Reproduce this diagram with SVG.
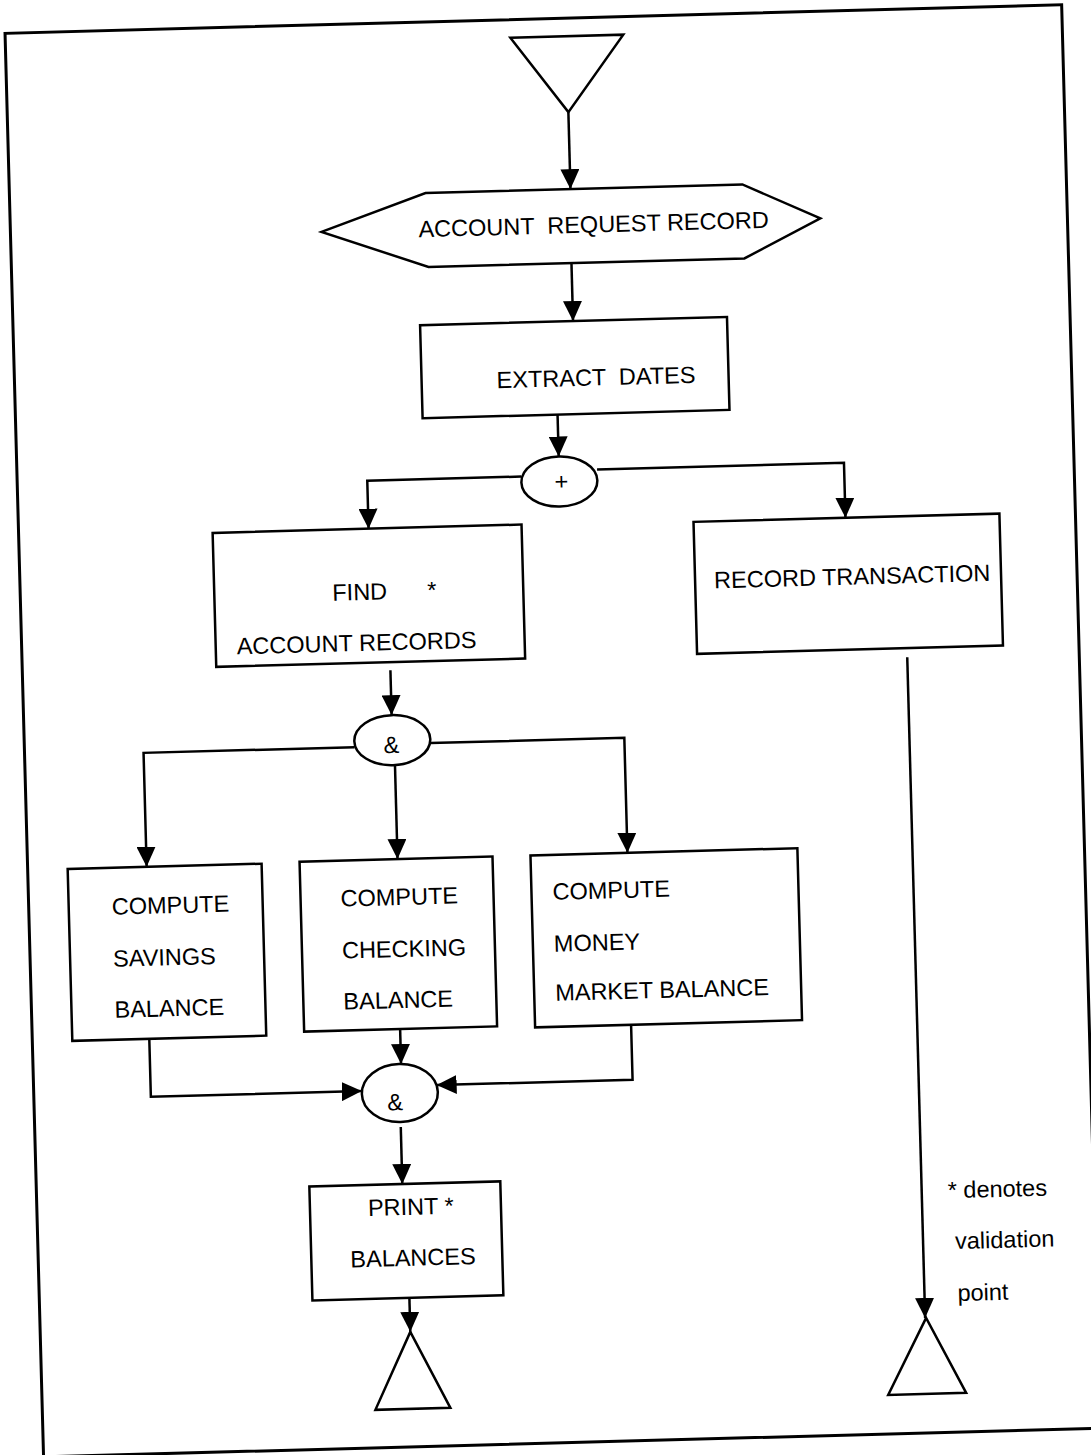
<svg xmlns="http://www.w3.org/2000/svg" width="1091" height="1455" viewBox="0 0 1091 1455">
<defs>
<marker id="ah" viewBox="0 0 20 19" markerWidth="20" markerHeight="19" refX="20" refY="9.5" orient="auto" markerUnits="userSpaceOnUse">
<path d="M0,0 L20,9.5 L0,19 z" fill="#000"/>
</marker>
</defs>
<style>
.s{fill:#fff;stroke:#000;stroke-width:2.5}
.c{fill:none;stroke:#000;stroke-width:2.5;marker-end:url(#ah)}
.t{font-family:"Liberation Sans",Arial,sans-serif;font-size:23.5px;fill:#000}
.m{text-anchor:middle}
</style>
<rect width="1091" height="1455" fill="#fff"/>
<g transform="rotate(-1.55 545 727)">
<g id="frame"><rect x="24" y="19" width="1057" height="1424" fill="none" stroke="#000" stroke-width="3"/></g>
<g id="start"><polygon class="s" points="529,37 642,37 585,113"/></g>
<g id="account-request-record"><polygon class="s" points="335,226 440,190 757,190 834,226 757,264 441,264"/><text class="t" x="432" y="234" xml:space="preserve">ACCOUNT  REQUEST RECORD</text></g>
<g id="extract-dates"><rect class="s" x="431" y="322" width="307" height="93"/><text class="t" x="506" y="387" xml:space="preserve">EXTRACT  DATES</text></g>
<g id="or"><ellipse class="s" cx="566" cy="482" rx="38" ry="25"/><text class="t m" x="568" y="490" font-size="22">+</text></g>
<g id="find"><rect class="s" x="218" y="524" width="309" height="134"/><text class="t" x="336" y="595">FIND</text><text class="t" x="431" y="595">*</text><text class="t" x="239" y="646">ACCOUNT RECORDS</text></g>
<g id="record-transaction"><rect class="s" x="699" y="526" width="306" height="132"/><text class="t" x="718" y="593">RECORD TRANSACTION</text></g>
<g id="and1"><ellipse class="s" cx="392" cy="736" rx="38" ry="25"/><text class="t m" x="391" y="749" font-size="22">&amp;</text></g>
<g id="savings"><rect class="s" x="64" y="856" width="194" height="172"/><text class="t" x="107" y="903">COMPUTE</text><text class="t" x="107" y="955">SAVINGS</text><text class="t" x="107" y="1006">BALANCE</text></g>
<g id="checking"><rect class="s" x="296" y="855" width="193" height="170"/><text class="t" x="336" y="901">COMPUTE</text><text class="t" x="336" y="953">CHECKING</text><text class="t" x="336" y="1004">BALANCE</text></g>
<g id="money"><rect class="s" x="527" y="855" width="267" height="172"/><text class="t" x="548" y="900">COMPUTE</text><text class="t" x="548" y="952">MONEY</text><text class="t" x="548" y="1001">MARKET BALANCE</text></g>
<g id="and2"><ellipse class="s" cx="390" cy="1089" rx="38" ry="29"/><text class="t m" x="385" y="1106" font-size="22">&amp;</text></g>
<g id="print"><rect class="s" x="297" y="1180" width="191" height="114"/><text class="t" x="355" y="1211">PRINT *</text><text class="t" x="336" y="1262">BALANCES</text></g>
<g id="end1"><polygon class="s" points="394,1328 357,1405 432,1405"/></g>
<g id="end2"><polygon class="s" points="910,1328 870,1404 948,1404"/></g>
<g id="legend"><text class="t" x="935" y="1209" font-size="24">* denotes</text><text class="t" x="941" y="1260" font-size="24">validation</text><text class="t" x="942" y="1312" font-size="24">point</text></g>
<g id="connectors">
<path class="c" d="M585,113 V190"/>
<path class="c" d="M584,264 V322"/>
<path class="c" d="M566,415 V457"/>
<path class="c" d="M528,476 H374 V524"/>
<path class="c" d="M604,471 H851 V526"/>
<path class="c" d="M392,666 V711"/>
<path class="c" d="M354,742 H143 V856"/>
<path class="c" d="M394,761 V855"/>
<path class="c" d="M430,740 H624 V855"/>
<path class="c" d="M141,1028 V1086 H352"/>
<path class="c" d="M392,1025 V1060"/>
<path class="c" d="M623,1027 V1082 H427"/>
<path class="c" d="M390,1123 V1180"/>
<path class="c" d="M394,1294 V1328"/>
<path class="c" d="M909,667 V1328"/>
</g>
</g>
</svg>
